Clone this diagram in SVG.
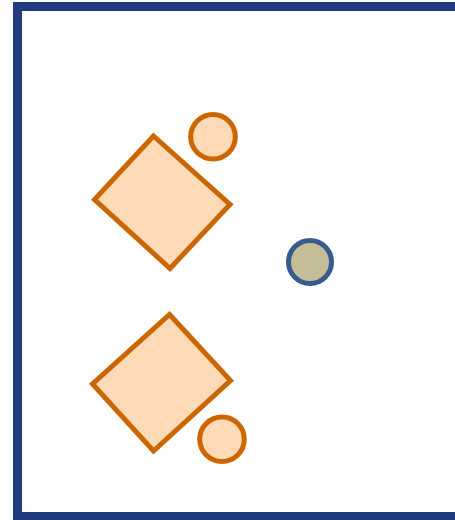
<svg xmlns="http://www.w3.org/2000/svg" width="455" height="520" viewBox="0 0 455 520">
<style>
.frame{fill:#ffffff;stroke:#203c7f;stroke-width:9}
.orange{fill:#ffdab6;stroke:#cc6600;stroke-width:5;stroke-linejoin:miter}
.blue{fill:#c5bd98;stroke:#365b8c;stroke-width:5}
</style>
<rect class="frame" x="17.5" y="6.5" width="452" height="510"/>
<g id="diamond1"><polygon class="orange" points="153.5,136 230,204.5 170,268.5 94.5,199.5"/></g>
<g id="circle1"><circle class="orange" cx="213" cy="136.7" r="22.3"/></g>
<g id="diamond2"><polygon class="orange" points="169.5,314.5 230.5,380.5 153.5,451 92.5,384"/></g>
<g id="circle2"><circle class="orange" cx="222" cy="439.3" r="22.3"/></g>
<g id="center"><circle class="blue" cx="310" cy="262" r="21.5"/></g>
<g id="connectors"></g>
</svg>
